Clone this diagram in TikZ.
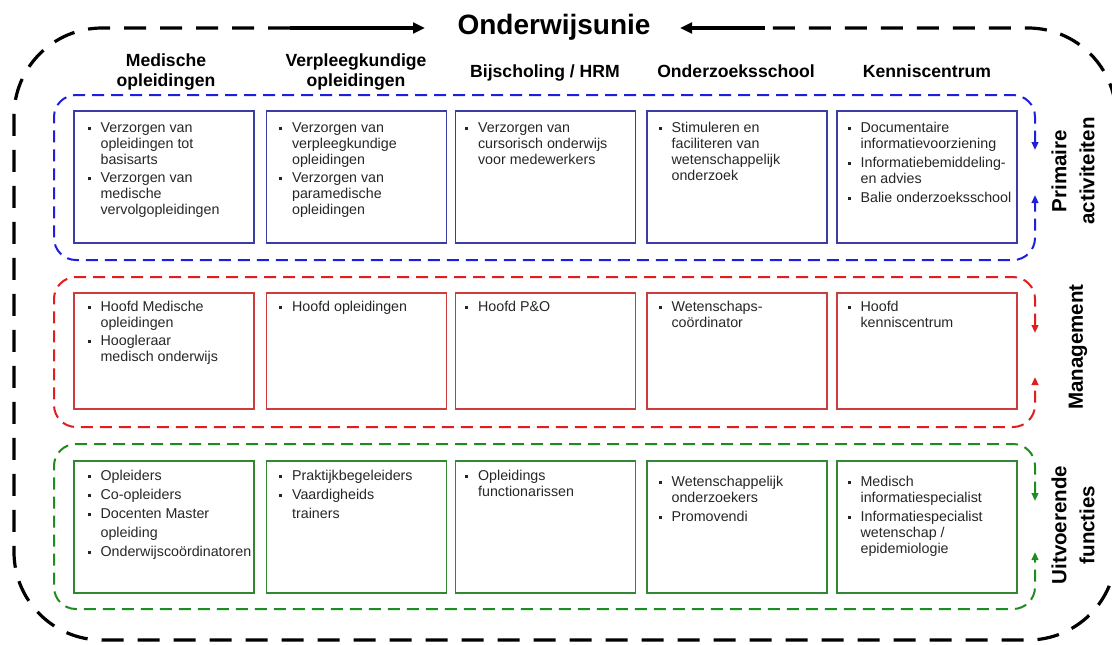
\documentclass[tikz,border=0pt]{standalone}
\usepackage{fontspec}
\setmainfont{Liberation Sans}
\usetikzlibrary{arrows.meta,calc}
\definecolor{bluedash}{RGB}{30,30,220}
\definecolor{bluebox}{RGB}{60,60,165}
\definecolor{reddash}{RGB}{225,30,30}
\definecolor{redbox}{RGB}{205,60,60}
\definecolor{greendash}{RGB}{30,140,30}
\definecolor{greenbox}{RGB}{50,135,50}
\newcommand\bul{\rule[1.7pt]{2.3pt}{2.3pt}}
\newcommand\lst[1]{{\fontsize{10.7}{12}\selectfont\begin{tabular}[t]{@{}p{9.75pt}@{}l@{}}#1\end{tabular}}}
\begin{document}
\begin{tikzpicture}[x=0.75pt,y=-0.75pt,
  boxB/.style={draw=bluebox, line width=1pt, minimum width=135pt, minimum height=99pt, inner sep=0pt},
  boxR/.style={draw=redbox, line width=1pt, minimum width=135pt, minimum height=87pt, inner sep=0pt},
  boxG/.style={draw=greenbox, line width=1pt, minimum width=135pt, minimum height=99pt, inner sep=0pt},
  txt/.style={text=black!85, inner sep=0pt, anchor=base west},
  hdr/.style={font=\fontsize{13.2}{15}\selectfont\bfseries, align=center, inner sep=0pt},
  side/.style={font=\fontsize{15.4}{21}\selectfont\bfseries, align=center, inner sep=0pt, rotate=90},
  frame/.style={line width=1.5pt, dash pattern=on 9pt off 5.25pt, rounded corners=16.5pt,
     {Triangle[length=6pt,width=5pt]}-{Triangle[length=6pt,width=5pt]}},
  outer/.style={line width=2.4pt, dash pattern=on 16.5pt off 10.5pt, rounded corners=66pt},
  outarrow/.style={line width=2.4pt, -{Triangle[length=9pt,width=8pt]}}
]
\useasboundingbox (0,0) rectangle (1112,644);

% title and outer frame
\node[font=\fontsize{21}{25}\selectfont\bfseries, anchor=base, inner sep=0pt] (title) at (554,34) {Onderwijsunie};
\coordinate (oL) at (290,28);
\coordinate (oR) at (765,28);
\coordinate (tL) at (425,28);
\coordinate (tR) at (680,28);
\draw[outer] (oL) -- (14,28) -- (14,640) -- (1116,640) -- (1116,28) -- (oR);
\draw[outarrow] (oL) -- (tL);
\draw[outarrow] (oR) -- (tR);

% column headers
\node[hdr] (h1) at (166,71.5) {Medische\\opleidingen};
\node[hdr] (h2) at (356,71.5) {Verpleegkundige\\opleidingen};
\node[hdr, anchor=base] (h3) at (545,77) {Bijscholing / HRM};
\node[hdr, anchor=base] (h4) at (736,77) {Onderzoeksschool};
\node[hdr, anchor=base] (h5) at (927,77) {Kenniscentrum};

% dashed row frames
\coordinate (bd) at (1035,150); \coordinate (bu) at (1035,195);
\coordinate (rd) at (1035,333); \coordinate (ru) at (1035,377);
\coordinate (gd) at (1035,501); \coordinate (gu) at (1035,552);
\draw[frame, bluedash] (bd) -- (1035,95) -- (54,95) -- (54,260) -- (1035,260) -- (bu);
\draw[frame, reddash] (rd) -- (1035,277) -- (54,277) -- (54,427) -- (1035,427) -- (ru);
\draw[frame, greendash] (gd) -- (1035,444) -- (54,444) -- (54,609) -- (1035,609) -- (gu);

% side labels
\node[side] (lp) at (1073,171) {Primaire\\activiteiten};
\node[side] (lm) at (1078,347) {Management};
\node[side] (lu) at (1073,525) {Uitvoerende\\functies};

% boxes
\node[boxB] (b11) at (164,177) {};
\node[boxB] (b12) at (356.5,177) {};
\node[boxB] (b13) at (545.5,177) {};
\node[boxB] (b14) at (737,177) {};
\node[boxB] (b15) at (927,177) {};
\node[boxR] (b21) at (164,351) {};
\node[boxR] (b22) at (356.5,351) {};
\node[boxR] (b23) at (545.5,351) {};
\node[boxR] (b24) at (737,351) {};
\node[boxR] (b25) at (927,351) {};
\node[boxG] (b31) at (164,527) {};
\node[boxG] (b32) at (356.5,527) {};
\node[boxG] (b33) at (545.5,527) {};
\node[boxG] (b34) at (737,527) {};
\node[boxG] (b35) at (927,527) {};

% texts
\node[txt] (t11) at ($(b11.north west)+(14,22)$) {\lst{\bul & Verzorgen van\\ & opleidingen tot\\ & basisarts\\[1.5pt] \bul & Verzorgen van\\ & medische\\ & vervolgopleidingen}};
\node[txt] (t12) at ($(b12.north west)+(13,22)$) {\lst{\bul & Verzorgen van\\ & verpleegkundige\\ & opleidingen\\[1.5pt] \bul & Verzorgen van\\ & paramedische\\ & opleidingen}};
\node[txt] (t13) at ($(b13.north west)+(10,22)$) {\lst{\bul & Verzorgen van\\ & cursorisch onderwijs\\ & voor medewerkers}};
\node[txt] (t14) at ($(b14.north west)+(12,22)$) {\lst{\bul & Stimuleren en\\ & faciliteren van\\ & wetenschappelijk\\ & onderzoek}};
\node[txt] (t15) at ($(b15.north west)+(11,22)$) {\lst{\bul & Documentaire\\ & informatievoorziening\\[2.25pt] \bul & Informatiebemiddeling-\\ & en advies\\[2.25pt] \bul & Balie onderzoeksschool}};

\node[txt] (t21) at ($(b21.north west)+(14,18.7)$) {\lst{\bul & Hoofd Medische\\ & opleidingen\\[1.5pt] \bul & Hoogleraar\\ & medisch onderwijs}};
\node[txt] (t22) at ($(b22.north west)+(13,18.7)$) {\lst{\bul & Hoofd opleidingen}};
\node[txt] (t23) at ($(b23.north west)+(10,18.7)$) {\lst{\bul & Hoofd P\&O}};
\node[txt] (t24) at ($(b24.north west)+(12,18.7)$) {\lst{\bul & Wetenschaps-\\ & coördinator}};
\node[txt] (t25) at ($(b25.north west)+(11,18.7)$) {\lst{\bul & Hoofd\\ & kenniscentrum}};

\node[txt] (t31) at ($(b31.north west)+(14,20)$) {\lst{\bul & Opleiders\\[2.25pt] \bul & Co-opleiders\\[2.25pt] \bul & Docenten Master\\[2.25pt] & opleiding\\[2.25pt] \bul & Onderwijscoördinatoren}};
\node[txt] (t32) at ($(b32.north west)+(13,20)$) {\lst{\bul & Praktijkbegeleiders\\[2.25pt] \bul & Vaardigheids\\[2.25pt] & trainers}};
\node[txt] (t33) at ($(b33.north west)+(10,20)$) {\lst{\bul & Opleidings\\ & functionarissen}};
\node[txt] (t34) at ($(b34.north west)+(12,26)$) {\lst{\bul & Wetenschappelijk\\ & onderzoekers\\[2.25pt] \bul & Promovendi}};
\node[txt] (t35) at ($(b35.north west)+(11,26)$) {\lst{\bul & Medisch\\ & informatiespecialist\\[2.25pt] \bul & Informatiespecialist\\ & wetenschap /\\ & epidemiologie}};
\end{tikzpicture}
\end{document}
